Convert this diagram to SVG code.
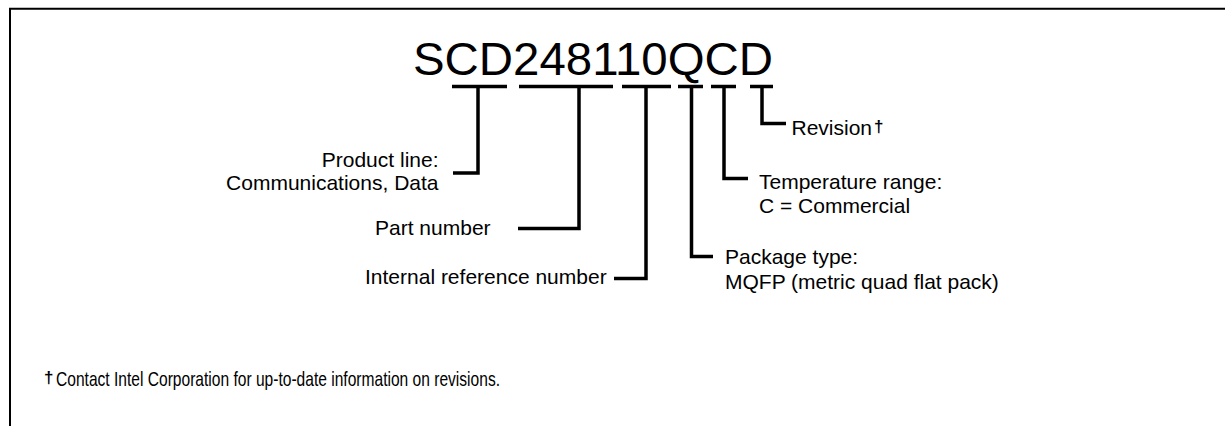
<svg xmlns="http://www.w3.org/2000/svg" width="1225" height="426" viewBox="0 0 1225 426">
<style>
.t{font-family:"Liberation Sans",Arial,Helvetica,sans-serif;fill:#000}
.lbl{font-size:21px}
.ttl{font-size:46px}
.fn{font-size:21px}
.dg{font-size:17px;font-weight:bold}
.ln{fill:none;stroke:#000;stroke-width:3.5;stroke-linejoin:miter;stroke-linecap:butt}
.bar{fill:none;stroke:#000;stroke-width:3.3}
.frame{fill:none;stroke:#000;stroke-width:2}
</style>
<rect width="1225" height="426" fill="#fff"/>
<path class="frame" d="M10,426 V8.7 H1225"/>
<g id="title">
<text class="t ttl" x="413" y="75" textLength="360" lengthAdjust="spacingAndGlyphs">SCD248110QCD</text>
<path class="bar" d="M452,86.5 H507 M519,86.5 H613 M622,86.5 H671 M678,86.5 H703 M711,86.5 H736 M750,86.5 H773"/>
</g>
<g id="connectors">
<path class="ln" d="M478,86.5 V173 H453"/>
<path class="ln" d="M579,86.5 V228.5 H518"/>
<path class="ln" d="M646,86.5 V278.5 H614"/>
<path class="ln" d="M691.5,86.5 V256.5 H713"/>
<path class="ln" d="M724,86.5 V178.5 H748"/>
<path class="ln" d="M762,86.5 V123.5 H786"/>
</g>
<g id="product-line">
<text class="t lbl" x="438.5" y="166.5" text-anchor="end">Product line:</text>
<text class="t lbl" x="438.5" y="190" text-anchor="end">Communications, Data</text>
</g>
<g id="part-number">
<text class="t lbl" x="375" y="235">Part number</text>
</g>
<g id="internal-ref">
<text class="t lbl" x="365" y="283.5">Internal reference number</text>
</g>
<g id="package-type">
<text class="t lbl" x="725" y="264">Package type:</text>
<text class="t lbl" x="725" y="289">MQFP (metric quad flat pack)</text>
</g>
<g id="temperature">
<text class="t lbl" x="759" y="188.5">Temperature range:</text>
<text class="t lbl" x="759" y="213">C = Commercial</text>
</g>
<g id="revision">
<text class="t lbl" x="791.5" y="135">Revision<tspan class="dg" x="874" dy="-3">†</tspan></text>
</g>
<g id="footnote">
<text class="t fn" x="44" y="383"><tspan class="dg">†</tspan><tspan x="56" dy="3" textLength="444" lengthAdjust="spacingAndGlyphs">Contact Intel Corporation for up-to-date information on revisions.</tspan></text>
</g>
</svg>
